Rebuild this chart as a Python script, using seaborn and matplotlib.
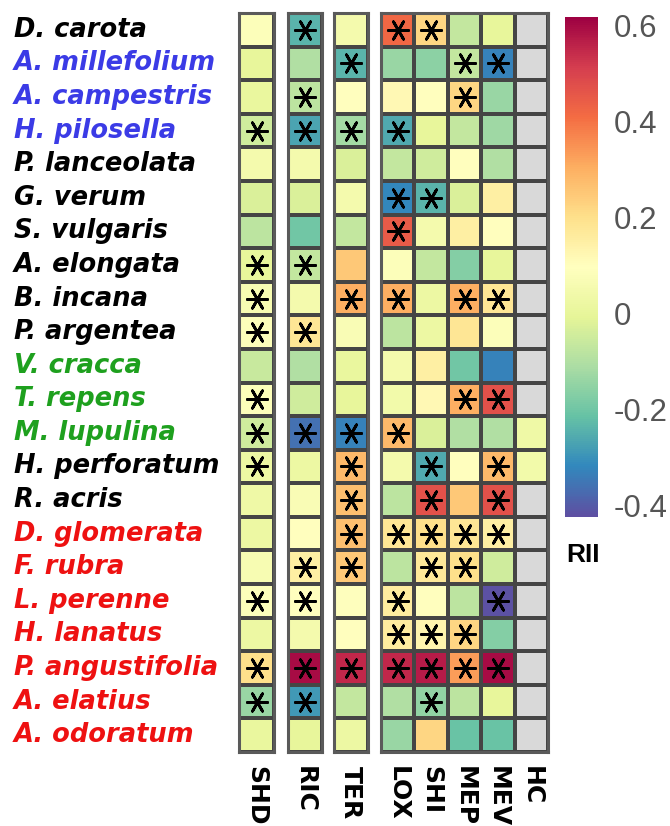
import numpy as np
import pandas as pd
import seaborn as sns
import matplotlib.pyplot as plt
from matplotlib.colors import ListedColormap
import matplotlib.transforms as mtransforms

# -------------------------------
# Data (RII values; nan = no data)
species = ["D. carota", "A. millefolium", "A. campestris", "H. pilosella", "P. lanceolata",
           "G. verum", "S. vulgaris", "A. elongata", "B. incana", "P. argentea",
           "V. cracca", "T. repens", "M. lupulina", "H. perforatum", "R. acris",
           "D. glomerata", "F. rubra", "L. perenne", "H. lanatus", "P. angustifolia",
           "A. elatius", "A. odoratum"]
label_colors = ["black", "#3b3be6", "#3b3be6", "#3b3be6", "black",
                "black", "black", "black", "black", "black",
                "#1ea01e", "#1ea01e", "#1ea01e", "black", "black",
                "#ee1111", "#ee1111", "#ee1111", "#ee1111", "#ee1111",
                "#ee1111", "#ee1111"]

nan = np.nan
SHD = [0.08, 0.0, 0.01, -0.05, 0.05, -0.03, -0.08, 0.0, 0.06, 0.08, -0.06, 0.08, -0.05,
       0.02, 0.03, 0.02, 0.06, 0.08, 0.02, 0.2, -0.14, 0.01]
RIC = [-0.24, -0.1, -0.08, -0.27, 0.05, -0.03, -0.2, -0.07, 0.05, 0.18, -0.1, -0.05, -0.36,
       0.02, 0.07, 0.1, 0.15, 0.1, 0.05, 0.6, -0.29, 0.0]
TER = [0.05, -0.24, 0.1, -0.12, -0.03, 0.05, -0.07, 0.25, 0.3, 0.07, 0.01, 0.0, -0.33,
       0.28, 0.27, 0.27, 0.25, 0.09, 0.1, 0.55, -0.07, 0.02]
LOX = [0.42, -0.14, 0.12, -0.26, -0.07, -0.32, 0.45, 0.08, 0.3, -0.08, 0.05, 0.04, 0.28,
       0.05, -0.08, 0.18, -0.08, 0.16, 0.16, 0.55, -0.1, -0.14]
SHI = [0.22, -0.16, 0.1, 0.0, -0.05, -0.24, 0.05, -0.07, 0.02, 0.02, 0.15, 0.12, -0.03,
       -0.26, 0.47, 0.2, 0.17, 0.1, 0.13, 0.57, -0.15, 0.22]
MEP = [-0.07, -0.07, 0.22, -0.07, 0.1, -0.03, 0.15, -0.17, 0.3, 0.18, -0.2, 0.3, -0.1,
       0.1, 0.25, 0.18, 0.2, -0.08, 0.22, 0.33, -0.08, -0.21]
MEV = [0.0, -0.33, -0.14, -0.13, -0.1, 0.15, 0.1, 0.0, 0.18, 0.08, -0.33, 0.47, -0.1,
       0.28, 0.47, 0.15, -0.05, -0.42, -0.17, 0.6, 0.0, -0.21]
HC = [nan] * 12 + [0.03, 0.04] + [nan] * 8

# significance (asterisks), 1 = significant
SHD_sig = [0, 0, 0, 1, 0, 0, 0, 1, 1, 1, 0, 1, 1, 1, 0, 0, 0, 1, 0, 1, 1, 0]
RIC_sig = [1, 0, 1, 1, 0, 0, 0, 1, 0, 1, 0, 0, 1, 0, 0, 0, 1, 1, 0, 1, 1, 0]
TER_sig = [0, 1, 0, 1, 0, 0, 0, 0, 1, 0, 0, 0, 1, 1, 1, 1, 1, 0, 0, 1, 0, 0]
LOX_sig = [1, 0, 0, 1, 0, 1, 1, 0, 1, 0, 0, 0, 1, 0, 0, 1, 0, 1, 1, 1, 0, 0]
SHI_sig = [1, 0, 0, 0, 0, 1, 0, 0, 0, 0, 0, 0, 0, 1, 1, 1, 1, 0, 1, 1, 1, 0]
MEP_sig = [0, 1, 1, 0, 0, 0, 0, 0, 1, 0, 0, 1, 0, 0, 0, 1, 1, 0, 1, 1, 0, 0]
MEV_sig = [0, 1, 0, 0, 0, 0, 0, 0, 1, 0, 0, 1, 0, 1, 1, 1, 0, 1, 0, 1, 0, 0]
HC_sig = [0] * 22

vals = pd.DataFrame({"SHD": SHD, "RIC": RIC, "TER": TER, "LOX": LOX, "SHI": SHI,
                     "MEP": MEP, "MEV": MEV, "HC": HC}, index=species)
sig = pd.DataFrame({"SHD": SHD_sig, "RIC": RIC_sig, "TER": TER_sig, "LOX": LOX_sig,
                    "SHI": SHI_sig, "MEP": MEP_sig, "MEV": MEV_sig, "HC": HC_sig}, index=species)

groups = [["SHD"], ["RIC"], ["TER"], ["LOX", "SHI", "MEP", "MEV", "HC"]]
vmin, vmax = -0.425, 0.617

# -------------------------------
# Layout (pixel based)
sns.set_theme(style="white")
plt.rcParams['font.family'] = ['DejaVu Sans']
W, H = 670, 826
fig = plt.figure(figsize=(W / 100, H / 100), dpi=100)
top, bottom = 13, 752
xspans = [(239, 274), (288, 322), (334, 368), (381, 548)]
cax = fig.add_axes([565 / W, 1 - 517 / H, 33 / W, (517 - 17) / H])

axes = []
mesh = None
for cols, (x0, x1) in zip(groups, xspans):
    ax = fig.add_axes([x0 / W, 1 - bottom / H, (x1 - x0) / W, (bottom - top) / H])
    sub = vals[cols]
    isnan = sub.isna()
    last = cols == groups[-1]
    if isnan.values.any():
        # grey cells for missing values
        sns.heatmap(isnan.astype(float), mask=~isnan, cmap=ListedColormap(["#d9d9d9"]),
                    vmin=0, vmax=1, cbar=False, linewidths=1.6, linecolor="#454545", ax=ax)
    sns.heatmap(sub, mask=isnan, cmap="Spectral_r", vmin=vmin, vmax=vmax,
                linewidths=1.6, linecolor="#454545", ax=ax,
                cbar=last, cbar_ax=cax if last else None)
    if last:
        mesh = ax.collections[-1]
    # asterisks for significant cells
    s = sig[cols].values
    rows_i, cols_j = np.nonzero(s)
    ax.scatter(cols_j + 0.5, rows_i + 0.5, marker=(6, 2, 30), s=210, color="black",
               linewidths=2.0, zorder=5)
    ax.set_yticks([])
    ax.set_ylabel("")
    ax.set_xticks(np.arange(len(cols)) + 0.5)
    ax.set_xticklabels(cols, rotation=-90, fontsize=18, fontweight="bold", color="black")
    ax.tick_params(axis="x", length=0, pad=10)
    for sp in ax.spines.values():
        sp.set_visible(True)
        sp.set_linewidth(2.2)
        sp.set_color("#5a5a5a")
    axes.append(ax)

# species labels
trans = mtransforms.blended_transform_factory(fig.transFigure, axes[0].transData)
for i, (name, col) in enumerate(zip(species, label_colors)):
    axes[0].text(14 / W, i + 0.5, name, transform=trans, ha="left", va="center",
                 fontsize=18.5, fontweight="bold", fontstyle="italic", color=col)

# colorbar
cbar = mesh.colorbar
cbar.outline.set_visible(False)
cbar.set_ticks([-0.4, -0.2, 0, 0.2, 0.4, 0.6])
cbar.set_ticklabels(["-0.4", "-0.2", "0", "0.2", "0.4", "0.6"])
cax.tick_params(length=0, pad=11, labelsize=22.5, labelcolor="#555555")
for t in cax.get_yticklabels():
    t.set_family("Liberation Sans")
fig.text(583 / W, 1 - 555 / H, "RII", ha="center", va="center", fontsize=19,
         fontweight="bold", color="black", family="Liberation Sans")

fig.savefig("out.png", dpi=100)
